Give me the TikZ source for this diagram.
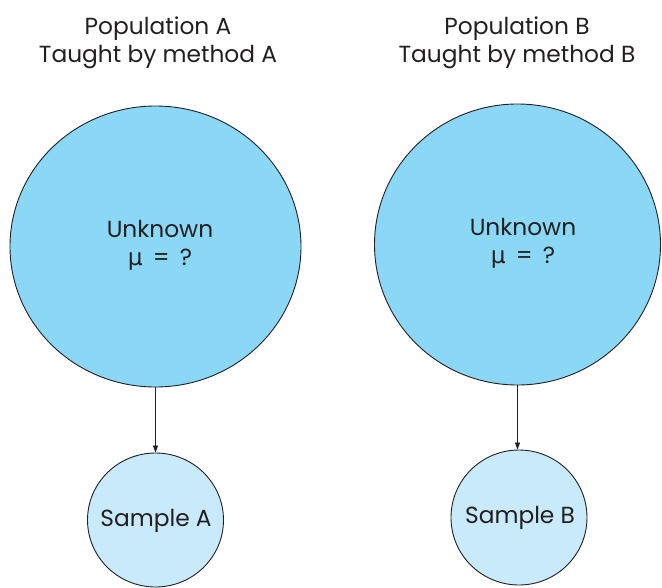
\documentclass[tikz,border=0pt]{standalone}
\usepackage{fontspec}
\setmainfont{Poppins}
\newfontfamily\mufont{DejaVu Sans}
\usetikzlibrary{arrows.meta,shapes.geometric}
\definecolor{bigblue}{RGB}{138,216,246}
\definecolor{smallblue}{RGB}{200,234,250}
\definecolor{ink}{RGB}{35,31,32}
\begin{document}
\begin{tikzpicture}[x=1pt,y=-1pt,
  popbox/.style={ellipse, draw=ink, line width=0.9pt, fill=bigblue, inner sep=0pt},
  sampbox/.style={ellipse, draw=ink, line width=0.9pt, fill=smallblue, inner sep=0pt},
  lbl/.style={text=ink, font=\fontsize{23.3}{28.5}\selectfont, align=center, inner sep=0pt},
  conn/.style={draw=ink, line width=0.8pt, -{Triangle[length=7pt,width=5pt]}}]
\useasboundingbox (0,0) rectangle (662,587);
\node[popbox, minimum width=291pt, minimum height=281pt] (popA) at (155.5,246.5) {};
\node[popbox, minimum width=286pt, minimum height=281pt] (popB) at (517.5,244.5) {};
\node[sampbox, minimum width=136pt, minimum height=134pt] (sampA) at (155.5,520) {};
\node[sampbox, minimum width=136pt, minimum height=135pt] (sampB) at (519,517.5) {};
\node[lbl] (titleA) at (158,43) {Population A\\Taught by method A};
\node[lbl] (titleB) at (517,43) {Population B\\Taught by method B};
\node[lbl] (unkA) at (160,245.5) {Unknown\\{\mufont μ} \,=\, ?};
\node[lbl] (unkB) at (523,243.5) {Unknown\\{\mufont μ} \,=\, ?};
\node[lbl] (labA) at (156,521) {Sample A};
\node[lbl] (labB) at (520,518) {Sample B};
\draw[conn] (popA.south) -- (sampA.north);
\draw[conn] (popB.south) -- (popB.south |- sampB.north);
\end{tikzpicture}
\end{document}
